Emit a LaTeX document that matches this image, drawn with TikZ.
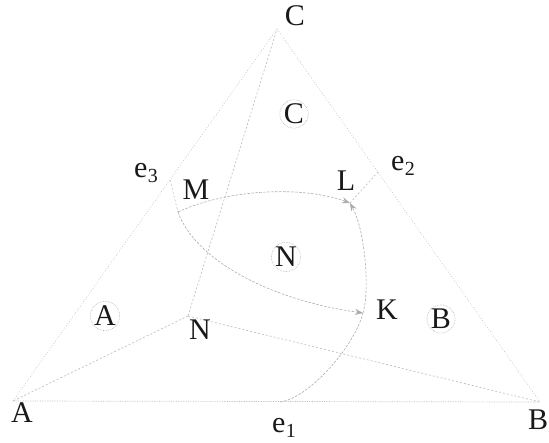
\documentclass[tikz,border=0pt]{standalone}
\usepackage{fontspec}
\setmainfont{Liberation Serif}
\usetikzlibrary{arrows.meta}
\tikzset{
  lbl/.style={font=\fontsize{30}{32}\selectfont, text=black!90, inner sep=0pt},
  circled/.style={lbl, circle, draw=gray!60, densely dotted, line width=0.6pt, inner sep=0pt},
  edge/.style={draw=gray!50, dotted, line width=0.7pt},
  baseedge/.style={draw=gray!55, densely dotted, line width=0.7pt},
  inner/.style={draw=gray!55, dash pattern=on 2pt off 2pt, line width=0.6pt},
  curve/.style={draw=gray!65, dash pattern=on 2.5pt off 1.5pt, line width=0.6pt},
  arr/.style={-{Stealth[length=8pt,width=6pt]}},
}
\newcommand{\esub}[2]{e\kern0.5pt\raisebox{-0.35ex}{\fontsize{20}{20}\selectfont #2}}
\begin{document}
\begin{tikzpicture}[x=1pt,y=-1pt]
\useasboundingbox (0,0) rectangle (549,443);
% vertices and points
\coordinate (A) at (13,401);
\coordinate (B) at (540,402);
\coordinate (C) at (277,29);
\coordinate (E1) at (280,402);
\coordinate (E2) at (378,172);
\coordinate (E3) at (170,180);
\coordinate (M) at (178,212);
\coordinate (L) at (350,203);
\coordinate (K) at (363,313);
\coordinate (N) at (188,316);
% triangle
\draw[edge] (A) -- (C) -- (B);
\draw[baseedge] (A) -- (B);
% lines from N to vertices
\draw[inner] (N) -- (A);
\draw[inner] (N) -- (B);
\draw[inner] (N) -- (C);
% boundary curves
\draw[inner] (E3) -- (M);
\draw[inner] (L) -- (E2);
\draw[curve] (E1) .. controls (310,398) and (355,345) .. (K);
\draw[curve,arr] (K) .. controls (370,290) and (365,230) .. (L);
\draw[curve,arr] (M) .. controls (225,190) and (300,185) .. (L);
\draw[curve,arr] (M) .. controls (195,260) and (270,300) .. (K);
% labels
\node[lbl] (lA) at (22,413) {A};
\node[lbl] (lB) at (538,420) {B};
\node[lbl] (lC) at (295,16) {C};
\node[lbl] (le1) at (284,428) {\esub{}{1}};
\node[lbl] (le2) at (403,166) {\esub{}{2}};
\node[lbl] (le3) at (146,173) {\esub{}{3}};
\node[lbl] (lM) at (196,190) {M};
\node[lbl] (lL) at (346,181) {L};
\node[lbl] (lK) at (387,310) {K};
\node[lbl] (lN) at (200,330) {N};
\node[circled] (cC) at (294,114) {C};
\node[circled] (cN) at (286,257) {N};
\node[circled] (cA) at (105,316) {A};
\node[circled] (cB) at (441,319) {B};
\end{tikzpicture}
\end{document}
